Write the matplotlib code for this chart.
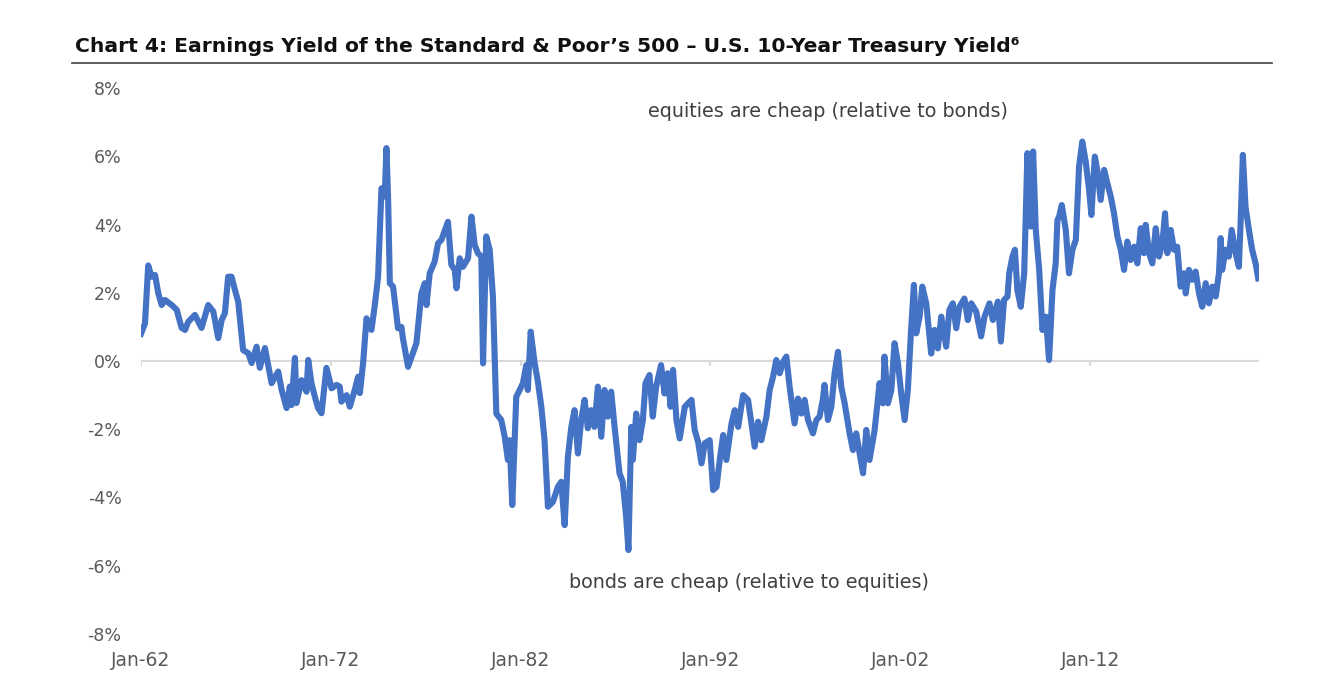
import matplotlib.pyplot as plt
from matplotlib.ticker import FuncFormatter

# earnings yield of S&P 500 minus 10y treasury yield, in %
years = [
    1962.0, 1962.21, 1962.38, 1962.56, 1962.74, 1962.91, 1963.09, 1963.26, 1963.62, 1963.88,
    1964.14, 1964.32, 1964.49, 1964.84, 1965.19, 1965.54, 1965.81, 1966.07, 1966.25, 1966.42,
    1966.59, 1966.77, 1966.95, 1967.12, 1967.38, 1967.65, 1967.83, 1968.09, 1968.26, 1968.53,
    1968.88, 1969.23, 1969.41, 1969.67, 1969.84, 1969.93, 1970.11, 1970.19, 1970.46, 1970.72,
    1970.81, 1970.98, 1971.16, 1971.33, 1971.51, 1971.77, 1972.04, 1972.3, 1972.47, 1972.56,
    1972.83, 1973.0, 1973.26, 1973.44, 1973.53, 1973.7, 1973.88, 1974.14, 1974.32, 1974.49,
    1974.67, 1974.84, 1974.93, 1975.02, 1975.11, 1975.28, 1975.54, 1975.72, 1975.8, 1976.07,
    1976.51, 1976.77, 1976.95, 1977.04, 1977.21, 1977.47, 1977.65, 1977.83, 1978.17, 1978.35,
    1978.53, 1978.62, 1978.79, 1978.96, 1979.23, 1979.41, 1979.58, 1979.75, 1979.93, 1980.02,
    1980.19, 1980.37, 1980.54, 1980.72, 1980.98, 1981.16, 1981.33, 1981.42, 1981.56, 1981.77,
    1981.95, 1982.12, 1982.3, 1982.38, 1982.53, 1982.74, 1982.91, 1983.09, 1983.26, 1983.44,
    1983.7, 1983.96, 1984.14, 1984.32, 1984.49, 1984.67, 1984.84, 1985.02, 1985.19, 1985.37,
    1985.54, 1985.72, 1985.89, 1986.07, 1986.25, 1986.42, 1986.59, 1986.77, 1986.95, 1987.21,
    1987.38, 1987.56, 1987.68, 1987.83, 1987.91, 1988.09, 1988.26, 1988.44, 1988.58, 1988.79,
    1988.96, 1989.14, 1989.4, 1989.58, 1989.75, 1989.9, 1990.03, 1990.21, 1990.38, 1990.65,
    1991.0, 1991.17, 1991.35, 1991.53, 1991.7, 1991.96, 1992.14, 1992.32, 1992.49, 1992.67,
    1992.84, 1993.11, 1993.28, 1993.46, 1993.72, 1993.98, 1994.16, 1994.33, 1994.51, 1994.68,
    1994.95, 1995.12, 1995.3, 1995.47, 1995.65, 1995.83, 1996.0, 1996.17, 1996.43, 1996.61,
    1996.79, 1996.96, 1997.14, 1997.4, 1997.58, 1997.75, 1997.93, 1998.01, 1998.19, 1998.37,
    1998.54, 1998.72, 1998.89, 1999.07, 1999.33, 1999.51, 1999.68, 1999.86, 2000.04, 2000.21,
    2000.38, 2000.65, 2000.74, 2000.91, 2001.09, 2001.17, 2001.35, 2001.53, 2001.7, 2001.88,
    2002.05, 2002.23, 2002.4, 2002.58, 2002.72, 2002.84, 2003.02, 2003.16, 2003.37, 2003.63,
    2003.81, 2003.98, 2004.16, 2004.42, 2004.59, 2004.77, 2004.95, 2005.12, 2005.38, 2005.56,
    2005.74, 2006.0, 2006.26, 2006.44, 2006.7, 2006.88, 2007.14, 2007.3, 2007.47, 2007.65,
    2007.74, 2007.91, 2008.04, 2008.17, 2008.35, 2008.53, 2008.7, 2008.88, 2009.0, 2009.14,
    2009.32, 2009.49, 2009.67, 2009.84, 2010.02, 2010.19, 2010.28, 2010.37, 2010.51, 2010.72,
    2010.89, 2011.07, 2011.25, 2011.42, 2011.59, 2011.77, 2011.95, 2012.07, 2012.25, 2012.38,
    2012.56, 2012.74, 2012.91, 2013.09, 2013.26, 2013.44, 2013.62, 2013.79, 2013.96, 2014.14,
    2014.32, 2014.49, 2014.67, 2014.84, 2014.93, 2015.11, 2015.28, 2015.46, 2015.63, 2015.81,
    2015.95, 2016.07, 2016.25, 2016.42, 2016.59, 2016.77, 2016.95, 2017.04, 2017.21, 2017.38,
    2017.56, 2017.74, 2017.91, 2018.09, 2018.26, 2018.44, 2018.62, 2018.79, 2018.88, 2018.96,
    2019.14, 2019.31, 2019.46, 2019.67, 2019.84, 2019.93, 2020.05, 2020.19, 2020.37, 2020.54,
    2020.72, 2020.86,
]
spread = [
    0.8, 1.1, 2.8, 2.47, 2.52, 1.99, 1.64, 1.79, 1.64, 1.5,
    0.97, 0.91, 1.15, 1.35, 0.97, 1.64, 1.45, 0.67, 1.2, 1.4,
    2.47, 2.47, 2.08, 1.74, 0.32, 0.23, -0.06, 0.42, -0.2, 0.38,
    -0.65, -0.31, -0.85, -1.38, -0.75, -1.29, 0.09, -1.23, -0.56, -0.9,
    0.03, -0.65, -1.05, -1.38, -1.53, -0.2, -0.8, -0.7, -0.75, -1.19,
    -1.0, -1.34, -0.85, -0.46, -0.94, -0.07, 1.25, 0.91, 1.64, 2.47,
    5.06, 4.82, 6.24, 4.72, 2.28, 2.18, 0.96, 1.0, 0.66, -0.17,
    0.52, 1.98, 2.28, 1.64, 2.57, 2.91, 3.45, 3.55, 4.08, 2.82,
    2.67, 2.13, 3.01, 2.76, 3.01, 4.23, 3.4, 3.16, 3.06, -0.07,
    3.65, 3.26, 1.89, -1.54, -1.73, -2.22, -2.9, -2.32, -4.22, -1.05,
    -0.85, -0.65, -0.12, -0.85, 0.86, -0.07, -0.61, -1.34, -2.32, -4.27,
    -4.13, -3.69, -3.54, -4.81, -2.81, -1.93, -1.44, -2.71, -1.73, -1.14,
    -1.97, -1.44, -1.93, -0.75, -2.22, -0.85, -1.63, -0.9, -1.93, -3.29,
    -3.54, -4.57, -5.54, -1.93, -2.9, -1.54, -2.32, -1.73, -0.65, -0.41,
    -1.63, -0.75, -0.12, -0.95, -0.36, -1.34, -0.26, -1.73, -2.27, -1.34,
    -1.14, -2.02, -2.37, -3.0, -2.41, -2.32, -3.78, -3.69, -2.9, -2.17,
    -2.9, -1.83, -1.44, -1.93, -1.0, -1.14, -1.83, -2.51, -1.78, -2.32,
    -1.63, -0.85, -0.46, 0.03, -0.36, -0.02, 0.13, -0.75, -1.83, -1.1,
    -1.54, -1.14, -1.73, -2.12, -1.73, -1.63, -1.1, -0.7, -1.73, -1.34,
    -0.36, 0.27, -0.75, -1.24, -2.12, -2.61, -2.12, -2.71, -3.29, -2.02,
    -2.9, -2.02, -1.54, -0.65, -1.24, 0.13, -1.24, -0.85, 0.52, -0.07,
    -0.95, -1.73, -0.85, 1.0, 2.23, 0.81, 1.3, 2.18, 1.69, 0.22,
    0.91, 0.37, 1.3, 0.42, 1.5, 1.69, 0.96, 1.59, 1.83, 1.2,
    1.69, 1.45, 0.72, 1.3, 1.69, 1.2, 1.74, 0.57, 1.79, 1.89,
    2.57, 3.06, 3.26, 2.08, 1.59, 2.57, 6.09, 3.94, 6.14, 3.84,
    2.67, 0.91, 1.3, 0.03, 2.08, 2.86, 4.13, 4.23, 4.57, 3.84,
    2.57, 3.26, 3.55, 5.7, 6.43, 5.84, 5.01, 4.28, 5.99, 5.6,
    4.72, 5.6, 5.21, 4.82, 4.33, 3.65, 3.26, 2.67, 3.5, 2.96,
    3.35, 2.86, 3.89, 3.16, 3.99, 3.16, 2.86, 3.89, 3.06, 3.45,
    4.33, 3.16, 3.84, 3.26, 3.35, 2.18, 2.57, 1.98, 2.67, 2.38,
    2.62, 1.98, 1.59, 2.28, 1.69, 2.18, 1.89, 2.57, 3.6, 2.67,
    3.26, 3.06, 3.84, 3.16, 2.76, 4.04, 6.04, 4.52, 3.84, 3.26,
    2.86, 2.42,
]

tick_years = [1962, 1972, 1982, 1992, 2002, 2012]
tick_labels = ["Jan-62", "Jan-72", "Jan-82", "Jan-92", "Jan-02", "Jan-12"]
y_ticks = [-8, -6, -4, -2, 0, 2, 4, 6, 8]

label_color = "#595959"

fig = plt.figure(figsize=(13.42, 6.83), dpi=100)
ax = fig.add_axes([141 / 1342, 1 - 634 / 683, (1259 - 141) / 1342, (634 - 88) / 683])

ax.plot(years, spread, color="#4472C4", linewidth=4.4, solid_joinstyle="round", zorder=3)

# zero axis with small ticks at the labelled years
ax.axhline(0, color="#d9d9d9", linewidth=1.5, zorder=1)
ax.vlines(tick_years, -0.15, 0, color="#d9d9d9", linewidth=1.5, zorder=1)

ax.set_xlim(1962, 2020.9)
ax.set_ylim(-8, 8)
ax.set_yticks(y_ticks)
ax.yaxis.set_major_formatter(FuncFormatter(lambda v, p: f"{v:.0f}%"))
ax.set_xticks(tick_years)
ax.set_xticklabels(tick_labels)
ax.tick_params(axis="both", length=0, colors=label_color)
ax.tick_params(axis="y", pad=14, labelsize=12.5)
ax.tick_params(axis="x", pad=12, labelsize=13.5)
for s in ax.spines.values():
    s.set_visible(False)

ax.text(1998.2, 7.3, "equities are cheap (relative to bonds)", ha="center", va="center",
        fontsize=13.8, color="#404040")
ax.text(1994.05, -6.5, "bonds are cheap (relative to equities)", ha="center", va="center",
        fontsize=13.8, color="#404040")

fig.text(75 / 1342, 1 - 47 / 683, "Chart 4: Earnings Yield of the Standard & Poor\u2019s 500 \u2013 U.S. 10-Year Treasury Yield\u2076",
         ha="left", va="center", fontsize=14.6, fontweight="bold", color="#111111")
fig.add_artist(plt.Line2D([72 / 1342, 1272 / 1342], [1 - 63 / 683, 1 - 63 / 683],
                          color="#404040", linewidth=1.2))

fig.savefig("out.png", dpi=100)
